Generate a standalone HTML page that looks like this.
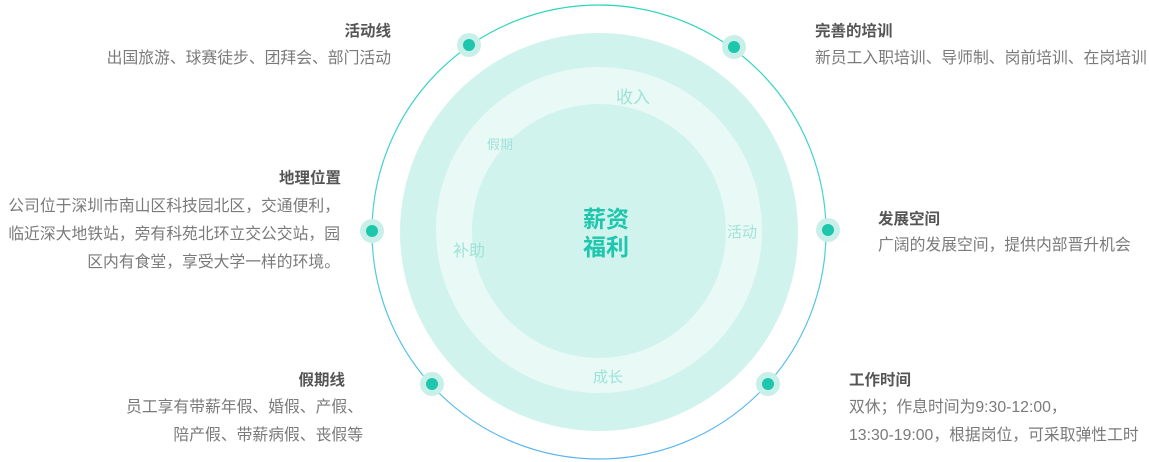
<!DOCTYPE html><html><head><meta charset="utf-8"><style>
body{margin:0;width:1149px;height:462px;background:#fff;position:relative;overflow:hidden;font-family:"Liberation Sans","Noto Sans CJK SC",sans-serif}
.t{position:absolute;font-size:15.5px;font-weight:bold;color:#555;white-space:nowrap}
.b{position:absolute;font-size:15.8px;color:#7a7a7a;line-height:28px;white-space:nowrap}
.r{text-align:right}
</style></head><body>
<svg width="1149" height="462" style="position:absolute;left:0;top:0">
<defs><linearGradient id="g" x1="0" y1="0" x2="0" y2="1"><stop offset="0" stop-color="#2ad6b8"/><stop offset="0.5" stop-color="#4cd0d8"/><stop offset="1" stop-color="#5ab4f0"/></linearGradient></defs>
<circle cx="599" cy="232" r="227" fill="none" stroke="url(#g)" stroke-width="1.2"/>
<circle cx="599" cy="232" r="199" fill="#d1f3ee"/>
<circle cx="599" cy="230" r="163" fill="#e8f9f6"/>
<circle cx="599" cy="231" r="127" fill="#d1f3ee"/>
<g fill="#c9efe9"><circle cx="469" cy="45" r="12"/><circle cx="734" cy="47" r="12"/><circle cx="372" cy="231" r="12"/><circle cx="828" cy="230" r="12"/><circle cx="432" cy="384" r="12"/><circle cx="768" cy="384" r="12"/></g>
<g fill="#1ec6ad"><circle cx="469" cy="45" r="6"/><circle cx="734" cy="47" r="6"/><circle cx="372" cy="231" r="6"/><circle cx="828" cy="230" r="6"/><circle cx="432" cy="384" r="6"/><circle cx="768" cy="384" r="6"/></g>
<g font-family="Liberation Sans,Noto Sans CJK SC,sans-serif" fill="#9ee3d8">
<text x="616" y="103" font-size="17">收入</text>
<text x="487" y="149" font-size="13">假期</text>
<text x="453" y="256" font-size="16">补助</text>
<text x="727" y="237" font-size="15">活动</text>
<text x="593" y="382" font-size="15">成长</text>
</g>
<g font-family="Liberation Sans,Noto Sans CJK SC,sans-serif" fill="#1ec6ad" font-weight="bold" font-size="23">
<text x="583" y="227">薪资</text><text x="583" y="255">福利</text></g>
</svg>
<div class="t r" style="right:758px;top:19px">活动线</div>
<div class="b r" style="right:758px;top:45px">出国旅游、球赛徒步、团拜会、部门活动</div>
<div class="t" style="left:815px;top:19px">完善的培训</div>
<div class="b" style="left:815px;top:45px">新员工入职培训、导师制、岗前培训、在岗培训</div>
<div class="t r" style="right:808px;top:166px">地理位置</div>
<div class="b r" style="right:809px;top:193px">公司位于深圳市南山区科技园北区，交通便利，<br>临近深大地铁站，旁有科苑北环立交公交站，园<br>区内有食堂，享受大学一样的环境。</div>
<div class="t" style="left:878px;top:207px">发展空间</div>
<div class="b" style="left:878px;top:232px">广阔的发展空间，提供内部晋升机会</div>
<div class="t r" style="right:804px;top:368px">假期线</div>
<div class="b r" style="right:786px;top:394px">员工享有带薪年假、婚假、产假、<br>陪产假、带薪病假、丧假等</div>
<div class="t" style="left:849px;top:368px">工作时间</div>
<div class="b" style="left:849px;top:394px">双休；作息时间为9:30-12:00，<br>13:30-19:00，根据岗位，可采取弹性工时</div>
</body></html>
